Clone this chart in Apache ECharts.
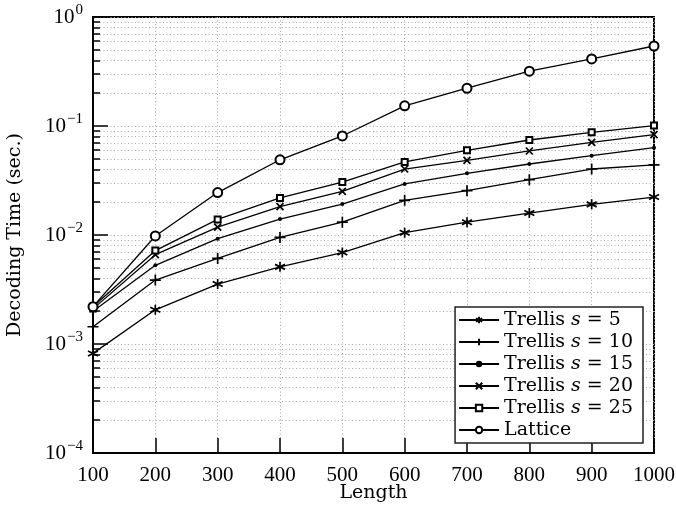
<!DOCTYPE html>
<html>
<head>
<meta charset="utf-8">
<script src="https://cdn.jsdelivr.net/npm/echarts@6/dist/echarts.min.js"></script>
<style>
  html, body { margin: 0; padding: 0; background: #fff; }
  #chart { width: 676px; height: 506px; }
</style>
</head>
<body>
<div id="chart"></div>
<script>
const lengths = [100, 200, 300, 400, 500, 600, 700, 800, 900, 1000];
const trellis5 = [0.00082, 0.00206, 0.00355, 0.0051, 0.0069, 0.0105, 0.0131, 0.0159, 0.0191, 0.0223];
const trellis10 = [0.00144, 0.00386, 0.0061, 0.0095, 0.0131, 0.0208, 0.0255, 0.0322, 0.0403, 0.0439];
const trellis15 = [0.0020, 0.00527, 0.00925, 0.0140, 0.0192, 0.0294, 0.0368, 0.0448, 0.0534, 0.0632];
const trellis20 = [0.0021, 0.0066, 0.0118, 0.0182, 0.0251, 0.0403, 0.0484, 0.059, 0.0709, 0.0832];
const trellis25 = [0.0022, 0.0072, 0.0139, 0.0219, 0.0306, 0.0468, 0.0598, 0.0744, 0.0875, 0.101];
const lattice = [0.0022, 0.0098, 0.0245, 0.049, 0.081, 0.153, 0.222, 0.318, 0.412, 0.542];

const NUMFONT = "'Liberation Serif', 'DejaVu Serif', serif";
const FONT = "'DejaVu Serif', 'Liberation Serif', serif";

// stroked marker shapes
const ASTERISK = "path://M5 0 L5 10 M0.67 2.5 L9.33 7.5 M0.67 7.5 L9.33 2.5";
const PLUS = "path://M5 0 L5 10 M0 5 L10 5";
const CROSS = "path://M0 0 L10 10 M0 10 L10 0";

const pairs = (vals) => lengths.map((x, i) => [x, vals[i]]);

function mkSeries(name, vals, symbol, size, strokeW) {
  return {
    name: name,
    type: "line",
    data: pairs(vals),
    symbol: symbol,
    symbolSize: size,
    showAllSymbol: true,
    lineStyle: { color: "#000", width: 1.3 },
    itemStyle: { color: "#000", borderColor: "#000", borderWidth: strokeW },
    emphasis: { disabled: true },
    z: 3,
  };
}

const names = ["Trellis s = 5", "Trellis s = 10", "Trellis s = 15", "Trellis s = 20", "Trellis s = 25", "Lattice"];

const dotted = { color: "#a8a8a8", width: 1, type: [1, 2.5] };

const option = {
  animation: false,
  backgroundColor: "#fff",
  textStyle: { fontFamily: FONT },
  grid: {
    left: 93, right: 22, top: 17, bottom: 53,
    outerBoundsMode: "none",
    containLabel: false,
    show: true, borderColor: "#000", borderWidth: 2, backgroundColor: "transparent",
  },
  legend: {
    orient: "vertical",
    right: 33,
    bottom: 63,
    backgroundColor: "#fff",
    borderColor: "#222",
    borderWidth: 1.5,
    borderRadius: 0,
    padding: [3, 10, 3, 3],
    itemWidth: 40,
    itemHeight: 8,
    itemGap: 2,
    data: names,
    formatter: function (n) {
      if (n.indexOf(" s = ") < 0) return "{r|" + n + "}";
      const parts = n.split(" s = ");
      return "{r|" + parts[0] + " }{i|s}{r| = " + parts[1] + "}";
    },
    textStyle: {
      fontFamily: FONT,
      fontSize: 19,
      lineHeight: 20,
      color: "#000",
      rich: {
        r: { fontFamily: FONT, fontSize: 19, lineHeight: 20, color: "#000" },
        i: { fontFamily: FONT, fontSize: 19, lineHeight: 20, fontStyle: "italic", color: "#000" },
      },
    },
  },
  xAxis: {
    type: "value",
    min: 100,
    max: 1000,
    interval: 100,
    name: "Length",
    nameLocation: "middle",
    nameGap: 31,
    nameMoveOverlap: false,
    nameTextStyle: { fontFamily: FONT, fontSize: 19, color: "#000", verticalAlign: "top" },
    axisLine: { show: true, lineStyle: { color: "#000", width: 2 } },
    axisTick: { show: true, inside: true, length: 15, lineStyle: { color: "#000", width: 1.5 } },
    axisLabel: {
      fontFamily: NUMFONT, fontSize: 21, color: "#000", margin: 12,
      formatter: (v) => String(v),
    },
    splitLine: { show: true, lineStyle: dotted },
  },
  yAxis: {
    type: "log",
    logBase: 10,
    min: 1e-4,
    max: 1,
    name: "Decoding Time (sec.)",
    nameLocation: "middle",
    nameGap: 68,
    nameMoveOverlap: false,
    nameRotate: 90,
    nameTextStyle: { fontFamily: FONT, fontSize: 19, color: "#000" },
    axisLine: { show: true, lineStyle: { color: "#000", width: 2 } },
    axisTick: { show: true, inside: true, length: 15, lineStyle: { color: "#000", width: 1.5 } },
    minorTick: { show: true, splitNumber: 9, length: 7, lineStyle: { color: "#000", width: 1.5 } },
    minorSplitLine: { show: true, lineStyle: dotted },
    splitLine: { show: true, lineStyle: dotted },
    axisLabel: {
      margin: 10,
      formatter: function (v) {
        const e = Math.round(Math.log10(v));
        return "{b|10}{e|" + (e < 0 ? "\u2212" + (-e) : e) + "}";
      },
      rich: {
        b: { fontFamily: NUMFONT, fontSize: 21, color: "#000" },
        e: { fontFamily: NUMFONT, fontSize: 15, color: "#000", padding: [0, 0, 13, 1] },
      },
    },
  },
  series: [
    mkSeries(names[0], trellis5, ASTERISK, 10, 1.7),
    mkSeries(names[1], trellis10, PLUS, 11, 1.7),
    mkSeries(names[2], trellis15, "circle", 4, 0),
    mkSeries(names[3], trellis20, CROSS, 7, 1.7),
    mkSeries(names[4], trellis25, "emptyRect", 6, 1.1),
    mkSeries(names[5], lattice, "emptyCircle", 9, 1.1),
  ],
};

const chart = echarts.init(document.getElementById("chart"));
chart.setOption(option);
</script>
</body>
</html>
